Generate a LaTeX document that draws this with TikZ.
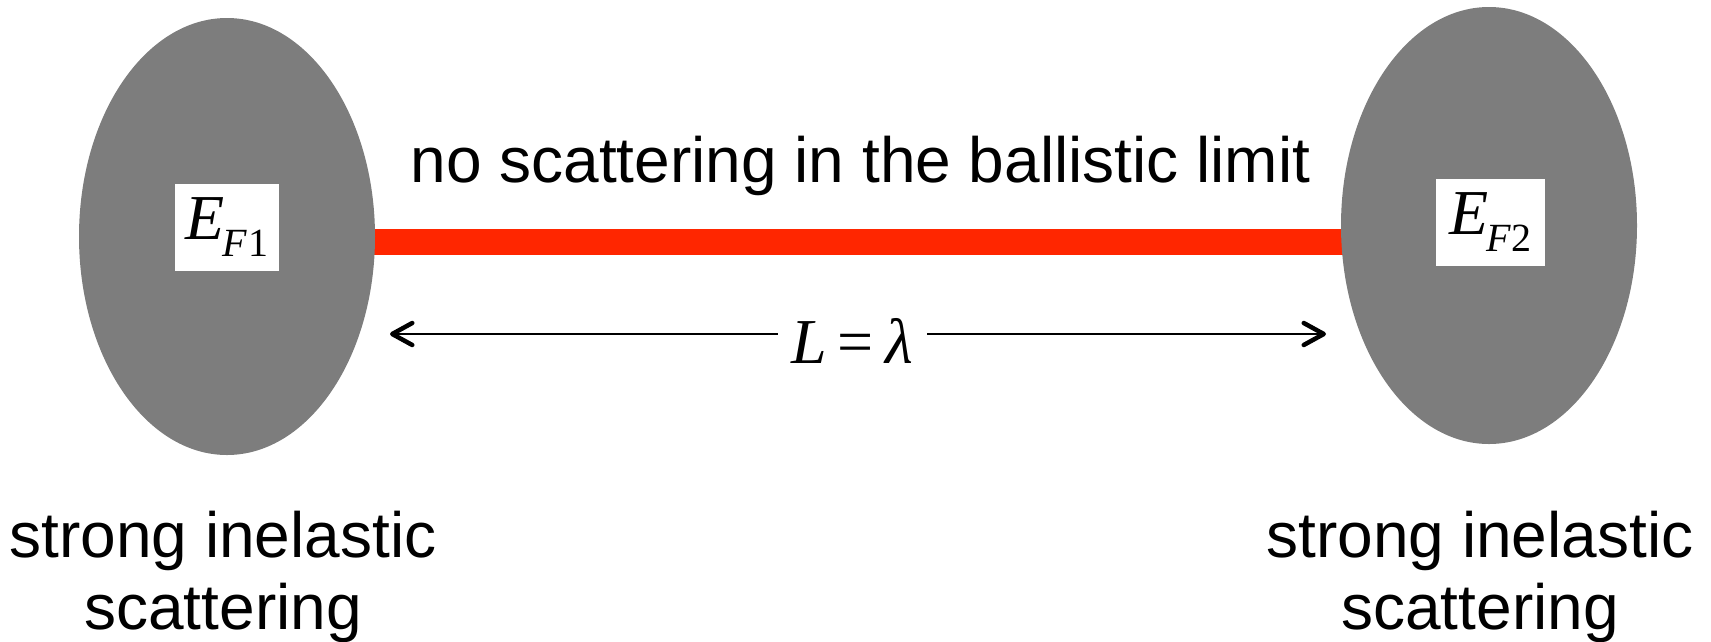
\documentclass[tikz,border=0pt]{standalone}
\usepackage{fontspec}
\setmainfont{Liberation Sans}
\newfontfamily\tnr{Liberation Serif}
\usetikzlibrary{shapes.geometric,arrows.meta,backgrounds}
\definecolor{blobgray}{RGB}{125,125,125}
\definecolor{barred}{RGB}{255,38,0}
\tikzset{
  blob/.style={ellipse,fill=blobgray,draw=none,inner sep=0pt,minimum width=296pt,minimum height=437pt},
  efbox/.style={fill=white,draw=none,inner sep=0pt,minimum height=87pt},
  bigtxt/.style={font=\fontsize{64}{72}\selectfont,inner sep=0pt},
  dimarrow/.style={line width=2pt,-{Straight Barb[length=20pt,width=22pt,line width=4.5pt,round]}},
  redbar/.style={barred,line width=26pt}
}
\newcommand{\efsub}[1]{{\tnr\fontsize{64}{64}\selectfont\itshape E\kern-2pt\raisebox{-17pt}{\fontsize{40}{40}\selectfont F\kern1pt\upshape #1}}}
\begin{document}
\begin{tikzpicture}[x=1pt,y=-1pt]
\useasboundingbox (0,0) rectangle (1711,641);
% blobs
\node[blob] (L) at (227,236.5) {};
\node[blob] (R) at (1489,225.5) {};
% red bar behind blobs
\coordinate (barL) at (330,242);
\coordinate (barR) at (1390,242);
\begin{scope}[on background layer]
\draw[redbar] (barL) -- (barR);
\end{scope}
% E_F labels
\node[efbox,minimum width=104pt] (EF1) at (227,227.5) {\efsub{1}};
\node[efbox,minimum width=109pt] (EF2) at (1490.5,222.5) {\efsub{2}};
% top text
\node[bigtxt,anchor=base] (top) at (860.5,182) {no scattering in the ballistic limit};
% dimension arrow
\coordinate (tipL) at (390,334);
\coordinate (tipR) at (1326,334);
\node[anchor=base,inner ysep=0pt,inner xsep=14pt,font=\tnr\fontsize{64}{64}\selectfont] (lab) at (852.5,363) {\itshape L\upshape\kern10pt=\kern12pt\itshape λ};
\draw[dimarrow] (lab.west |- tipL) -- (tipL);
\draw[dimarrow] (lab.east |- tipR) -- (tipR);
% bottom texts
\node[bigtxt,anchor=base,align=center] (bl) at (223,629) {strong inelastic\\scattering};
\node[bigtxt,anchor=base,align=center] (br) at (1480,629) {strong inelastic\\scattering};
\end{tikzpicture}
\end{document}
